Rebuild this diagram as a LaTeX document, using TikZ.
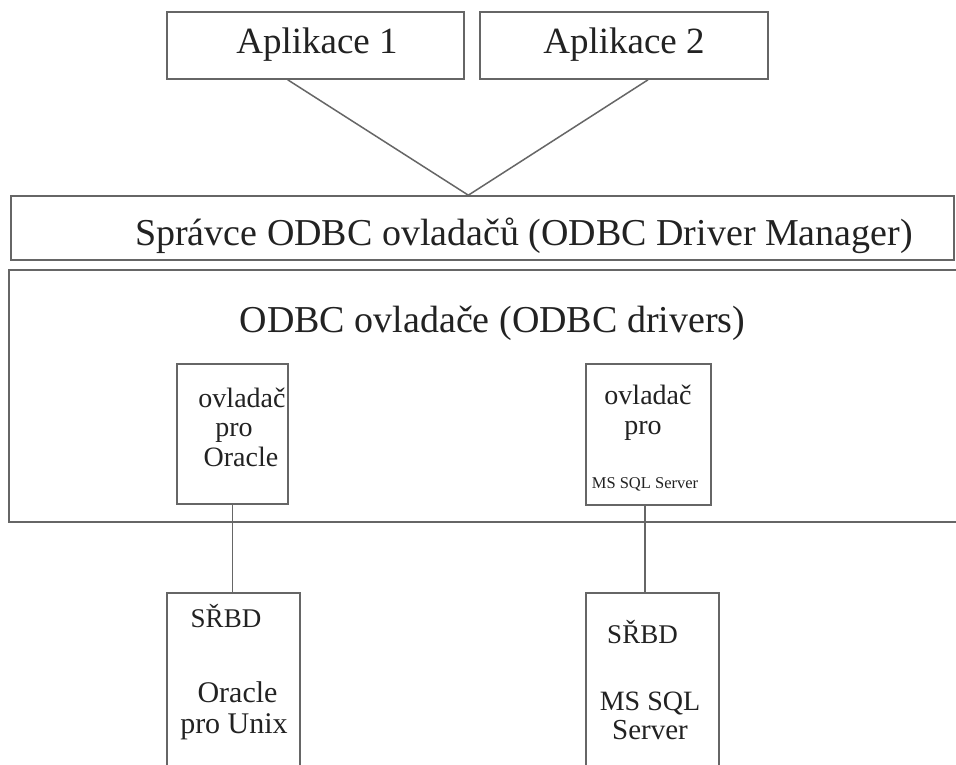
\documentclass[tikz,border=0pt]{standalone}
\usepackage{fontspec}
\setmainfont{Liberation Serif}
\usetikzlibrary{calc}
\definecolor{edge}{HTML}{666666}
\definecolor{ink}{HTML}{222222}
\tikzset{
  box/.style={draw=edge, line width=1.6pt, rectangle, inner sep=0pt, fill=white},
  conn/.style={draw=edge, line width=1.5pt},
  lbl/.style={anchor=base, inner sep=0pt, text=ink},
}
\newcommand{\fs}[1]{\fontsize{#1}{#1}\selectfont}
\begin{document}
\begin{tikzpicture}[x=1pt,y=-1pt]
\useasboundingbox (0,0) rectangle (956,765);
\clip (0,0) rectangle (956,765);
\fill[white] (0,0) rectangle (956,765);
% boxes
\node[box, minimum width=297pt, minimum height=67pt] (app1) at (315.5,45.5) {};
\node[box, minimum width=288pt, minimum height=67pt] (app2) at (624,45.5) {};
\node[box, minimum width=943pt, minimum height=64pt] (mgr) at (482.5,228) {};
\node[box, minimum width=966pt, minimum height=252pt] (drv) at (492,396) {};
\node[box, minimum width=111pt, minimum height=140pt] (od1) at (232.5,434) {};
\node[box, minimum width=125pt, minimum height=141pt] (od2) at (648.5,434.5) {};
\node[box, minimum width=133pt, minimum height=197pt] (db1) at (233.5,691.5) {};
\node[box, minimum width=133pt, minimum height=197pt] (db2) at (652.5,691.5) {};
% connectors
\coordinate (apex) at ($(mgr.north west)!0.485!(mgr.north east)$);
\draw[conn] ($(app1.south west)!0.407!(app1.south east)$) -- (apex);
\draw[conn] ($(app2.south west)!0.583!(app2.south east)$) -- (apex);
\draw[conn] (od1.south) -- (od1.south |- db1.north);
\draw[conn] ([xshift=-3.5pt]od2.south) -- ([xshift=-3.5pt]od2.south |- db2.north);
% labels
\node[lbl, font=\fs{37}] (t1) at (317,54) {Aplikace 1};
\node[lbl, font=\fs{37}] (t2) at (624,54) {Aplikace 2};
\node[lbl, font=\fs{38}] (t3) at (524,245) {Správce ODBC ovladačů (ODBC Driver Manager)};
\node[lbl, font=\fs{38}] (t4) at (492.5,332) {ODBC ovladače (ODBC drivers)};
\node[lbl, font=\fs{28}] (o1a) at (242,407) {ovladač};
\node[lbl, font=\fs{28}] (o1b) at (234,436) {pro};
\node[lbl, font=\fs{28}] (o1c) at (241,466) {Oracle};
\node[lbl, font=\fs{28}] (o2a) at (648,404) {ovladač};
\node[lbl, font=\fs{28}] (o2b) at (643,434) {pro};
\node[lbl, font=\fs{16.5}] (o2c) at (645,488) {MS SQL Server};
\node[lbl, font=\fs{27}] (d1a) at (226,627) {SŘBD};
\node[lbl, font=\fs{30}] (d1b) at (237.5,702) {Oracle};
\node[lbl, font=\fs{30}] (d1c) at (234,733) {pro Unix};
\node[lbl, font=\fs{27}] (d2a) at (642.5,643) {SŘBD};
\node[lbl, font=\fs{28}] (d2b) at (650,710) {MS SQL};
\node[lbl, font=\fs{29}] (d2c) at (650,739) {Server};
\end{tikzpicture}
\end{document}
